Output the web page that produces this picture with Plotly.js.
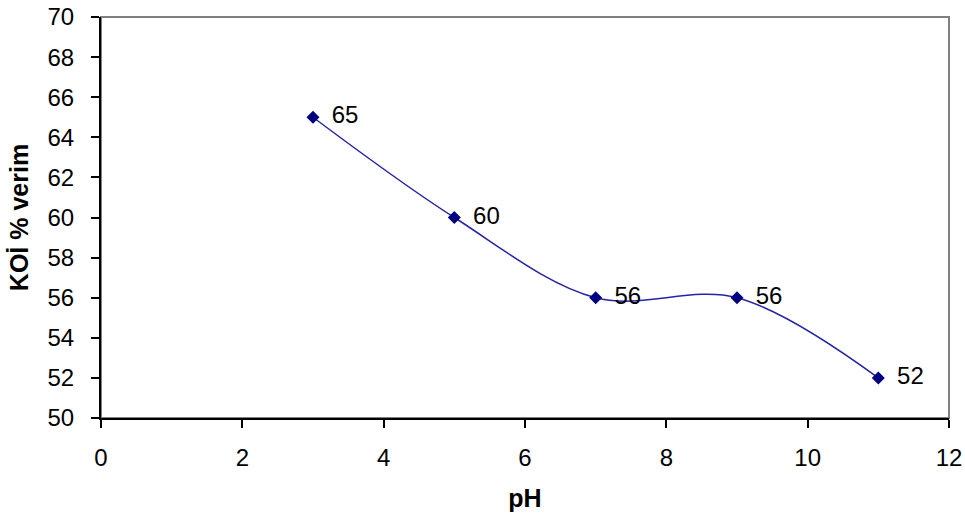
<!DOCTYPE html>
<html>
<head>
<meta charset="utf-8">
<script src="https://cdn.plot.ly/plotly-3.0.1.min.js"></script>
<style>html,body{margin:0;padding:0;background:#fff;}#chart{width:965px;height:527px;}</style>
</head>
<body>
<div id="chart"></div>
<script>
const phValues = [3, 5, 7, 9, 11];
const verimValues = [65, 60, 56, 56, 52];
const xTitle = 'pH';
const yTitle = 'KOİ % verim';

const FONT = 'Liberation Sans, Arial, sans-serif';

const trace = {
  x: phValues,
  y: verimValues,
  type: 'scatter',
  mode: 'lines+markers+text',
  line: {shape: 'spline', smoothing: 1, color: '#2424a4', width: 1.5},
  marker: {symbol: 'diamond', size: 10, color: '#000080'},
  text: verimValues.map(String),
  texttemplate: ' \u2009%{text}',
  textposition: 'middle right',
  textfont: {family: FONT, size: 24, color: '#000'},
  hoverinfo: 'skip',
  cliponaxis: false
};

const layout = {
  width: 965, height: 527,
  margin: {l: 101, r: 16, t: 17, b: 109},
  paper_bgcolor: '#fff', plot_bgcolor: '#fff',
  showlegend: false,
  font: {family: FONT, size: 24, color: '#000'},
  xaxis: {
    range: [0, 12], dtick: 2, tick0: 0,
    showgrid: false, zeroline: false,
    showline: true, linecolor: '#000', linewidth: 2,
    ticks: 'outside', ticklen: 8, tickwidth: 2, tickcolor: '#000',
    ticklabelstandoff: 9,
    tickfont: {size: 24},
    title: {text: xTitle, font: {size: 25, family: FONT, weight: 'bold'}, standoff: 20}
  },
  yaxis: {
    range: [50, 70], dtick: 2, tick0: 50,
    showgrid: false, zeroline: false,
    showline: true, linecolor: '#000', linewidth: 2,
    ticks: 'outside', ticklen: 8, tickwidth: 2, tickcolor: '#000',
    ticklabelstandoff: 12,
    tickfont: {size: 24},
    title: {text: yTitle, font: {size: 25, family: FONT, weight: 'bold'}, standoff: 12}
  },
  shapes: [{
    type: 'rect', xref: 'paper', yref: 'paper', x0: 0, x1: 1, y0: 0, y1: 1,
    line: {color: '#808080', width: 2}, layer: 'below'
  }]
};

Plotly.newPlot('chart', [trace], layout, {staticPlot: true, displayModeBar: false});
</script>
</body>
</html>
